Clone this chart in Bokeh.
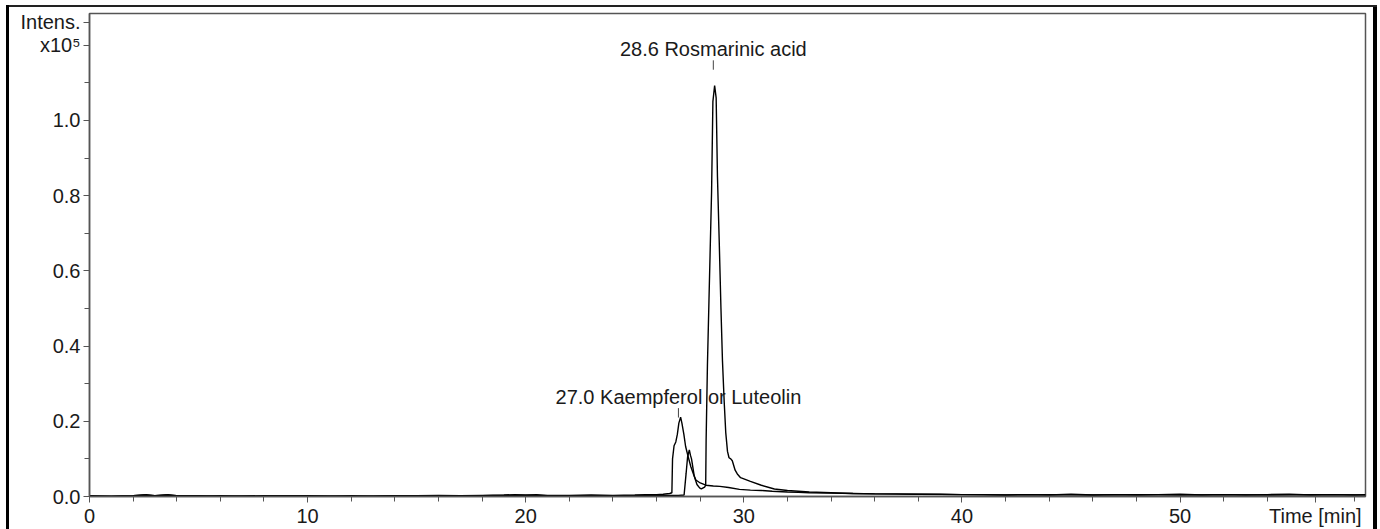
from bokeh.plotting import figure
from bokeh.models import Range1d, FixedTicker, Label, NumeralTickFormatter
from bokeh.embed import file_html
from bokeh.resources import INLINE

# ---- data (intensity in units of 1e5) ----
t_kaemp = [0, 1, 2, 2.5, 3, 3.5, 4, 5, 6, 7, 8, 9, 10, 11, 12, 13, 14, 15, 16, 17, 18, 19, 19.5,
           20, 20.5, 21, 22, 23, 24, 25, 25.5, 26, 26.3, 26.6, 26.7, 26.73, 26.8, 26.88, 26.95, 27.02,
           27.1, 27.16, 27.25, 27.33, 27.45, 27.57, 27.7, 27.8, 28.0, 28.26, 28.6, 28.9, 29.3, 29.8,
           30.3, 30.8, 31.3, 32, 32.5, 33, 34, 35, 36, 37, 38, 39, 40,
           41, 42, 43, 44, 45, 46, 47, 48, 49, 50, 51, 52, 53, 54, 55, 56, 57, 58, 58.5]
i_kaemp = [0.001, 0.001, 0.002, 0.004, 0.002, 0.004, 0.002, 0.001, 0.002, 0.001, 0.001, 0.002, 0.001,
           0.001, 0.002, 0.001, 0.002, 0.002, 0.003, 0.002, 0.003, 0.004, 0.005,
           0.004, 0.005, 0.003, 0.003, 0.004, 0.003, 0.004, 0.005, 0.005, 0.006, 0.008, 0.010, 0.100,
           0.135, 0.145, 0.165, 0.195, 0.211, 0.195, 0.165, 0.133, 0.105, 0.079, 0.058, 0.044, 0.036,
           0.030, 0.028, 0.027, 0.024, 0.019, 0.017, 0.016, 0.014, 0.012, 0.011, 0.010, 0.009, 0.008,
           0.007, 0.007, 0.006, 0.006, 0.005,
           0.005, 0.004, 0.005, 0.004, 0.006, 0.004, 0.005, 0.004, 0.005, 0.006, 0.004, 0.005, 0.004,
           0.005, 0.006, 0.004, 0.005, 0.004, 0.005]

t_rosm = [0, 1, 2, 2.6, 3, 3.6, 4, 5, 6, 8, 10, 12, 14, 16, 18, 19, 20, 21, 22, 24, 25, 26, 26.5,
          27.0, 27.26, 27.35, 27.42, 27.5, 27.55, 27.6, 27.73, 27.85, 27.97, 28.05, 28.2, 28.25, 28.27,
          28.33, 28.4, 28.52, 28.58, 28.66, 28.73, 28.79, 28.87, 28.95, 29.02, 29.1, 29.17, 29.25, 29.32,
          29.4, 29.47, 29.6, 29.7, 29.85, 30.3, 30.8, 31.4, 32, 33, 34, 35, 36, 38, 40, 42, 44, 46, 48,
          50, 52, 54, 56, 58.5]
i_rosm = [0.002, 0.001, 0.002, 0.005, 0.002, 0.005, 0.002, 0.002, 0.001, 0.002, 0.002, 0.001, 0.002,
          0.002, 0.002, 0.003, 0.003, 0.002, 0.002, 0.002, 0.002, 0.003, 0.003,
          0.003, 0.004, 0.060, 0.105, 0.124, 0.110, 0.100, 0.053, 0.032, 0.023, 0.020, 0.025, 0.030,
          0.150, 0.350, 0.520, 0.810, 1.050, 1.093, 1.060, 0.850, 0.680, 0.500, 0.360, 0.250, 0.170,
          0.120, 0.103, 0.100, 0.095, 0.070, 0.060, 0.050, 0.040, 0.030, 0.020, 0.016, 0.012, 0.010,
          0.008, 0.007, 0.006, 0.005, 0.004, 0.005, 0.004, 0.005, 0.004, 0.005, 0.004, 0.005, 0.004]

ann_times = [27.0, 28.6]
ann_names = ["Kaempferol or Luteolin", "Rosmarinic acid"]
ann_label_y = [0.235, 1.16]

# axis ticks and their labels (the printout puts the axis titles in the tick-label row)
y_ticks = [0.0, 0.2, 0.4, 0.6, 0.8, 1.0, 1.2, 1.2606]
y_minor = [0.1, 0.3, 0.5, 0.7, 0.9, 1.1]
y_tick_text = {1.2: "x10\u2075", 1.2606: "Intens."}
x_ticks = [0, 10, 20, 30, 40, 50, 56.2]
x_minor = [2, 4, 6, 8, 12, 14, 16, 18, 22, 24, 26, 28, 32, 34, 36, 38, 42, 44, 46, 48, 52, 54, 58]
x_tick_text = {56.2: "Time [min]"}

FONT = "Liberation Sans"
TXT = "#1a1a1a"
AX = "#555555"
FS = "20px"

p = figure(width=1380, height=529, output_backend="svg", toolbar_location=None,
           x_range=Range1d(0, 58.5), y_range=Range1d(0, 1.2845),
           min_border_left=89, min_border_right=15, min_border_top=13, min_border_bottom=32)
p.background_fill_color = "white"
p.border_fill_color = None
# outer frame of the printout (left, top and right edges), drawn as the page background
p.styles = {
    "background": ("linear-gradient(#000,#000) 6px 5px / 3px 524px no-repeat, "
                   "linear-gradient(#222,#222) 6px 5px / 1371px 2px no-repeat, "
                   "linear-gradient(#000,#000) 1373px 5px / 4px 524px no-repeat, #ffffff"),
}
p.xgrid.visible = False
p.ygrid.visible = False
p.outline_line_color = AX
p.outline_line_width = 1.5

p.line(t_kaemp, i_kaemp, line_color="black", line_width=1.4)
p.line(t_rosm, i_rosm, line_color="black", line_width=1.4)

for ax in (p.xaxis[0], p.yaxis[0]):
    ax.axis_line_color = AX
    ax.axis_line_width = 1.5
    ax.major_tick_line_color = AX
    ax.minor_tick_line_color = AX
    ax.major_tick_in = 0
    ax.minor_tick_in = 0
    ax.major_tick_out = 6
    ax.minor_tick_out = 5
    ax.major_label_text_font = FONT
    ax.major_label_text_font_size = FS
    ax.major_label_text_color = TXT

p.xaxis[0].ticker = FixedTicker(ticks=x_ticks, minor_ticks=x_minor)
p.xaxis[0].major_label_overrides = x_tick_text
p.xaxis[0].major_label_standoff = 2
p.yaxis[0].ticker = FixedTicker(ticks=y_ticks, minor_ticks=y_minor)
p.yaxis[0].formatter = NumeralTickFormatter(format="0.0")
p.yaxis[0].major_label_overrides = y_tick_text
p.yaxis[0].major_label_standoff = 3

# peak annotations
for t, name, ly in zip(ann_times, ann_names, ann_label_y):
    p.segment(x0=[t], y0=[ly - 0.025], x1=[t], y1=[ly], line_color="#444444", line_width=1)
    p.add_layout(Label(x=t, y=ly, text=f"{t:.1f} {name}", text_align="center",
                       text_font=FONT, text_font_size=FS, text_color=TXT))

open("out.html", "w").write(file_html(p, INLINE))
